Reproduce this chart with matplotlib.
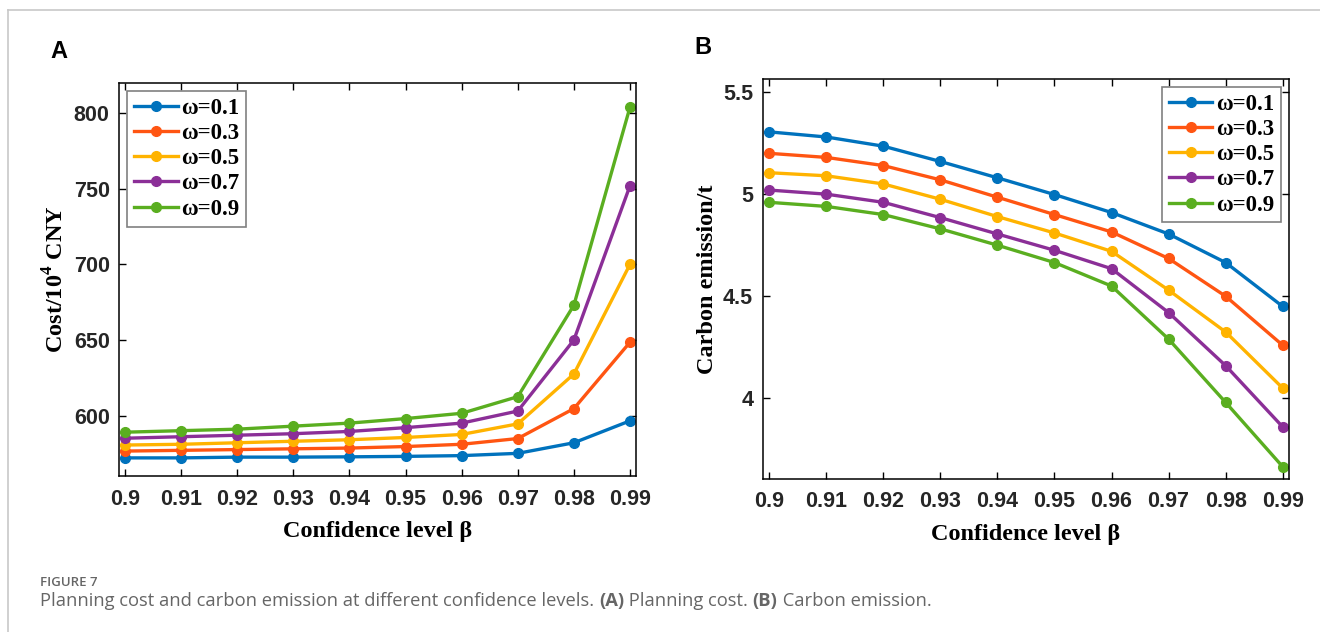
import matplotlib
matplotlib.use("Agg")
import matplotlib.pyplot as plt
from matplotlib.lines import Line2D

beta = [0.90, 0.91, 0.92, 0.93, 0.94, 0.95, 0.96, 0.97, 0.98, 0.99]
labels = ['ω=0.1', 'ω=0.3', 'ω=0.5', 'ω=0.7', 'ω=0.9']
colors = ['#0072BD', '#FF5512', '#FFB300', '#8B2F97', '#5AAE20']

# planning cost, 10^4 CNY
cost_01 = [572, 572, 572.5, 572.5, 572.7, 573, 573.5, 575, 582, 596.5]
cost_03 = [576.5, 577, 577.5, 578, 578.5, 579.5, 581, 584.8, 604.6, 648.5]
cost_05 = [580.5, 581, 582, 583, 584, 585.5, 587.5, 594.5, 627.5, 700]
cost_07 = [585, 586, 587, 588, 589.5, 592, 595, 603, 650, 752]
cost_09 = [589, 590, 591, 593, 595, 598, 601.5, 612.5, 673, 804]

# carbon emission, t
carb_01 = [5.305, 5.28, 5.235, 5.16, 5.08, 4.998, 4.91, 4.805, 4.665, 4.45]
carb_03 = [5.20, 5.18, 5.14, 5.07, 4.985, 4.90, 4.815, 4.685, 4.50, 4.26]
carb_05 = [5.105, 5.09, 5.05, 4.975, 4.89, 4.81, 4.72, 4.53, 4.325, 4.05]
carb_07 = [5.02, 5.0, 4.96, 4.885, 4.805, 4.725, 4.635, 4.42, 4.16, 3.86]
carb_09 = [4.96, 4.94, 4.90, 4.83, 4.75, 4.665, 4.55, 4.29, 3.98, 3.665]

cost = [cost_01, cost_03, cost_05, cost_07, cost_09]
carb = [carb_01, carb_03, carb_05, carb_07, carb_09]

plt.rcParams['mathtext.fontset'] = 'custom'
plt.rcParams['mathtext.bf'] = 'Liberation Serif:bold'
plt.rcParams['mathtext.rm'] = 'Liberation Serif:bold'

fig = plt.figure(figsize=(13.2, 6.32), dpi=100)

# thin page frame (top and left)
fig.add_artist(Line2D([7.5 / 1320, 1.0], [1 - 10 / 632, 1 - 10 / 632], color='#c8c8c8', lw=1.2))
fig.add_artist(Line2D([7.5 / 1320, 7.5 / 1320], [0, 1 - 10 / 632], color='#c8c8c8', lw=1.2))

tick_font = dict(family='Liberation Sans', weight='bold', size=15.5)
lab_font = dict(family='Liberation Serif', weight='bold', size=17.5)


def style(ax, xlabel, ylabel, legloc):
    ax.set_xticks(beta)
    ax.set_xticklabels([f'{b:g}' for b in beta], fontdict=tick_font)
    ax.tick_params(direction='in', top=True, right=True, length=5, width=1, colors='black',
                   labelcolor='#262626')
    ax.tick_params(axis='x', pad=9)
    ax.tick_params(axis='y', pad=7)
    for lab in ax.get_yticklabels():
        lab.set_fontproperties(matplotlib.font_manager.FontProperties(**tick_font))
    for s in ax.spines.values():
        s.set_linewidth(1.1)
    ax.set_xlabel(xlabel, fontdict=lab_font, labelpad=8)
    ax.set_ylabel(ylabel, fontdict=lab_font, labelpad=4)
    leg = ax.legend(loc=legloc,
                    prop=dict(family='Liberation Serif', weight='bold', size=16.5),
                    handlelength=1.9, handletextpad=0.15, labelspacing=0.18,
                    borderpad=0.3, borderaxespad=0.35, fancybox=False, framealpha=1)
    leg.get_frame().set_edgecolor('#808080')
    leg.get_frame().set_linewidth(1.2)


axA = fig.add_axes([0.0905, 0.2468, 0.391, 0.6218])
for ys, c, l in zip(cost, colors, labels):
    axA.plot(beta, ys, '-o', color=c, lw=2.4, ms=7, label=l)
axA.set_xlim(0.899, 0.991)
axA.set_ylim(560, 820)
axA.set_yticks([600, 650, 700, 750, 800])
axA.set_yticklabels(['600', '650', '700', '750', '800'])
style(axA, 'Confidence level β', r'Cost/10$^{\mathbf{4}}$ CNY', 'upper left')

axB = fig.add_axes([0.578, 0.2421, 0.3985, 0.6329])
for ys, c, l in zip(carb, colors, labels):
    axB.plot(beta, ys, '-o', color=c, lw=2.4, ms=7, label=l)
axB.set_xlim(0.8989, 0.9911)
axB.set_ylim(3.605, 5.564)
axB.set_yticks([4, 4.5, 5, 5.5])
axB.set_yticklabels(['4', '4.5', '5', '5.5'])
style(axB, 'Confidence level β', 'Carbon emission/t', 'upper right')

fig.text(50 / 1320, 1 - 52 / 632, 'A', family='Liberation Sans', weight='bold', size=17, va='center')
fig.text(694 / 1320, 1 - 48 / 632, 'B', family='Liberation Sans', weight='bold', size=17, va='center')

# caption
fig.text(40 / 1320, 1 - 583 / 632, 'FIGURE 7', family='Open Sans', weight='semibold', size=9.5,
         color='#666666', va='center')
parts = [('Planning cost and carbon emission at different confidence levels. ', 'normal'),
         ('(A)', 'bold'), (' Planning cost. ', 'normal'), ('(B)', 'bold'), (' Carbon emission.', 'normal')]
renderer = fig.canvas.get_renderer()
x = 40
for txt, w in parts:
    t = fig.text(x / 1320, 1 - 601 / 632, txt, family='Open Sans', weight=w, size=13.2,
                 color='#666666', va='center')
    x += t.get_window_extent(renderer).width

fig.savefig('out.png', dpi=100)
